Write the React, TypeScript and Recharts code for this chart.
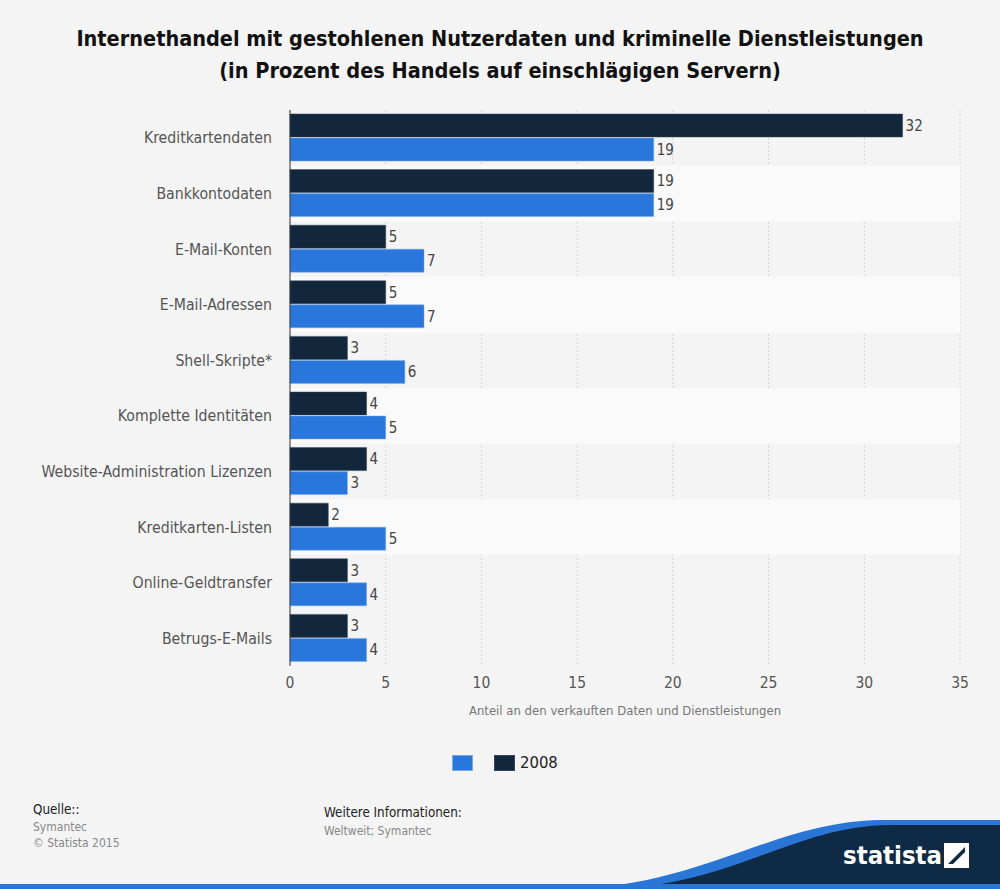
import React from 'react';
import {
    BarChart, Bar, XAxis, YAxis, CartesianGrid, ReferenceArea, LabelList
} from 'recharts';

const categories = [
    'Kreditkartendaten',
    'Bankkontodaten',
    'E-Mail-Konten',
    'E-Mail-Adressen',
    'Shell-Skripte*',
    'Komplette Identitäten',
    'Website-Administration Lizenzen',
    'Kreditkarten-Listen',
    'Online-Geldtransfer',
    'Betrugs-E-Mails',
];

const values2008 = [32, 19, 5, 5, 3, 4, 4, 2, 3, 3];
const valuesOther = [19, 19, 7, 7, 6, 5, 3, 5, 4, 4];

const xTicks = [0, 5, 10, 15, 20, 25, 30, 35];

const data = categories.map((name, i) => ({
    name,
    y2008: values2008[i],
    other: valuesOther[i],
}));

const FONT = "'DejaVu Sans Condensed', 'DejaVu Sans', sans-serif";
const DARK = '#12263c';
const BLUE = '#2977dc';

const App: React.FC = () => {
    return (
        <div style={{ position: 'absolute', left: 0, top: 0, width: 1000, height: 889, background: '#f4f4f4', fontFamily: FONT, fontStretch: 'condensed', overflow: 'hidden' }}>
            {/* Title */}
            <div style={{ position: 'absolute', top: 23, left: 0, width: 1000, textAlign: 'center', fontSize: 21.5, fontWeight: 'bold', color: '#111', lineHeight: '32px' }}>
                Internethandel mit gestohlenen Nutzerdaten und kriminelle Dienstleistungen<br />
                (in Prozent des Handels auf einschlägigen Servern)
            </div>

            <div style={{ position: 'absolute', left: 0, top: 0 }}>
                <BarChart
                    width={1000}
                    height={740}
                    data={data}
                    layout="vertical"
                    margin={{ top: 110, right: 40, left: 0, bottom: 24 }}
                    barCategoryGap={4}
                    barGap={1}
                    style={{ fontFamily: FONT }}
                >
                    {categories.map((c, i) =>
                        i % 2 === 1 ? (
                            <ReferenceArea key={c} y1={c} y2={c} fill="#fafafa" fillOpacity={1} stroke="none" />
                        ) : null
                    )}
                    <CartesianGrid horizontal={false} stroke="#d2d2d2" strokeDasharray="2 2" />
                    <XAxis
                        type="number"
                        domain={[0, 35]}
                        ticks={xTicks}
                        axisLine={false}
                        tickLine={false}
                        tickMargin={5}
                        height={50}
                        tick={{ fill: '#555', fontSize: 15.5 }}
                        label={{ value: 'Anteil an den verkauften Daten und Dienstleistungen', position: 'insideBottom', offset: 1, fill: '#777', fontSize: 13 }}
                    />
                    <YAxis
                        type="category"
                        dataKey="name"
                        width={290}
                        axisLine={{ stroke: '#333' }}
                        tickLine={false}
                        tickMargin={12}
                        tick={{ fill: '#555', fontSize: 15.7 }}
                    />
                    <Bar dataKey="y2008" name="2008" fill={DARK} stroke="#34465a" strokeWidth={0.5} isAnimationActive={false}>
                        <LabelList dataKey="y2008" position="right" offset={3} fill="#444" fontSize={15} />
                    </Bar>
                    <Bar dataKey="other" name="" fill={BLUE} stroke="#7aaaea" strokeWidth={0.5} isAnimationActive={false}>
                        <LabelList dataKey="other" position="right" offset={3} fill="#444" fontSize={15} />
                    </Bar>
                </BarChart>
            </div>

            {/* Legend */}
            <div style={{ position: 'absolute', top: 753, left: 452, display: 'flex', alignItems: 'center', fontSize: 16.5, color: '#222' }}>
                <span style={{ display: 'inline-block', width: 21, height: 16, background: BLUE, border: '1px solid #7aaaea', boxSizing: 'border-box' }} />
                <span style={{ display: 'inline-block', width: 21, height: 16, background: DARK, border: '1px solid #34465a', boxSizing: 'border-box', marginLeft: 21 }} />
                <span style={{ marginLeft: 5 }}>2008</span>
            </div>

            {/* Footer */}
            <div style={{ position: 'absolute', top: 802, left: 33, lineHeight: '16.5px' }}>
                <div style={{ color: '#222', fontSize: 13.3 }}>Quelle::</div>
                <div style={{ color: '#888', fontSize: 12 }}>Symantec</div>
                <div style={{ color: '#888', fontSize: 12 }}>© Statista 2015</div>
            </div>
            <div style={{ position: 'absolute', top: 804, left: 324, lineHeight: '18px' }}>
                <div style={{ color: '#222', fontSize: 13.3 }}>Weitere Informationen:</div>
                <div style={{ color: '#888', fontSize: 12 }}>Weltweit; Symantec</div>
            </div>

            {/* Statista badge */}
            <svg width={1000} height={889} style={{ position: 'absolute', left: 0, top: 0, pointerEvents: 'none' }}>
                <path d="M560 889 C 700 889, 770 822, 880 820 L 1000 820 L 1000 889 Z" fill="#2a76d6" />
                <path d="M600 889 C 730 889, 790 826, 890 825 L 1000 825 L 1000 889 Z" fill="#0e2a45" />
                <rect x={0} y={884} width={1000} height={5} fill="#2a76d6" />
                <rect x={944} y={843} width={25} height={25} fill="#fff" />
                <path d="M948 864 L 965 847 L 965 852 L 953 864 Z" fill="#0e2a45" />
            </svg>
            <div style={{ position: 'absolute', top: 837, left: 843, fontSize: 25.5, fontWeight: 'bold', color: '#fff', lineHeight: '36px', letterSpacing: 0 }}>
                statista
            </div>
        </div>
    );
};

export default App;
